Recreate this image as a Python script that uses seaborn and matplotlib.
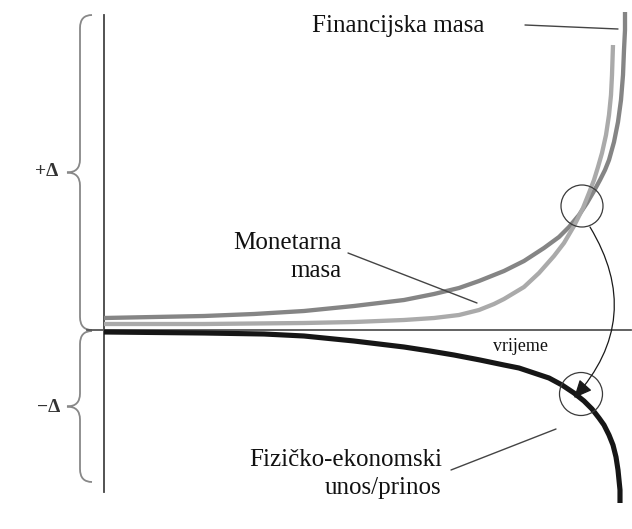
import matplotlib
matplotlib.use("Agg")
import matplotlib.pyplot as plt
from matplotlib.patches import Circle, PathPatch, FancyArrowPatch
from matplotlib.path import Path
import seaborn as sns
import pandas as pd

# ---- data (time, delta) ----
fin_time = [0, 50, 100, 150, 200, 250, 300, 330, 355, 375, 400, 420, 440, 455, 465, 475, 483,
            490, 496, 501, 505, 510, 514, 517, 519, 520, 521, 521]
fin_delta = [12, 13, 14, 16, 19, 24, 30, 36, 42, 49, 59, 69, 82, 93, 103, 115, 127,
             139, 150, 160, 170, 188, 208, 230, 255, 280, 300, 318]

mon_time = [0, 100, 200, 250, 300, 330, 355, 375, 390, 400, 410, 420, 435, 450, 460, 470, 479,
            485, 490, 494, 498, 502, 505, 507, 508, 509]
mon_delta = [6, 6, 7, 8, 10, 12, 15, 20, 26, 31, 37, 43, 57, 74, 87, 104, 122,
             137, 150, 163, 177, 195, 215, 235, 255, 285]

phys_time = [0, 100, 160, 200, 250, 300, 326, 350, 376, 400, 415, 430, 445, 458, 470, 480,
             488, 495, 500, 505, 509, 512, 514, 515, 516, 516]
phys_delta = [-2, -3, -4, -6, -11, -17, -21, -25, -30, -35, -38, -43, -48, -55, -63, -71,
              -79, -88, -95, -105, -115, -127, -140, -150, -160, -173]

labels = {
    "fin": "Financijska masa",
    "mon": ["Monetarna", "masa"],
    "phys": ["Fizičko-ekonomski", "unos/prinos"],
    "time": "vrijeme",
    "plus": "+Δ",
    "minus": "−Δ",
}

df = pd.concat([
    pd.DataFrame({"t": fin_time, "d": fin_delta, "s": "fin"}),
    pd.DataFrame({"t": mon_time, "d": mon_delta, "s": "mon"}),
    pd.DataFrame({"t": phys_time, "d": phys_delta, "s": "phys"}),
])

sns.set_theme(style="white")
plt.rcParams['font.family'] = ['Liberation Serif', 'DejaVu Serif']

fig = plt.figure(figsize=(6.32, 5.29), dpi=100)
ax = fig.add_axes([0, 0, 1, 1])
ax.set_xlim(-104, 528)
ax.set_ylim(-199, 330)

styles = {"fin": ("#858585", 3.1), "mon": ("#aaaaaa", 3.1), "phys": ("#161616", 3.7)}
for key, (col, lw) in styles.items():
    sub = df[df["s"] == key]
    sns.lineplot(data=sub, x="t", y="d", sort=False, estimator=None,
                 color=col, linewidth=lw, ax=ax, zorder=3,
                 solid_capstyle="butt", solid_joinstyle="round")

# axes as spines
for s in ["top", "right"]:
    ax.spines[s].set_visible(False)
ax.spines["left"].set_position(("data", 0))
ax.spines["bottom"].set_position(("data", 0))
ax.spines["left"].set_bounds(-162, 315)
ax.spines["bottom"].set_bounds(-17, 527)
ax.spines["left"].set_color("#444444")
ax.spines["bottom"].set_color("#555555")
ax.spines["left"].set_linewidth(1.3)
ax.spines["bottom"].set_linewidth(1.3)
ax.set_xticks([])
ax.set_yticks([])
ax.set_xlabel("")
ax.set_ylabel("")
ax.set_facecolor("white")

# circles
for (cx, cy, r) in [(478, 124, 21), (477, -64, 21.5)]:
    ax.add_patch(Circle((cx, cy), r, fill=False, edgecolor="#3a3a3a", linewidth=0.9, zorder=4))

# curved arrow
arr = FancyArrowPatch((486, 103), (470, -68), connectionstyle="arc3,rad=-0.37",
                      arrowstyle="-|>,head_length=0.55,head_width=0.25", mutation_scale=20,
                      color="#1a1a1a", linewidth=0.9, shrinkA=0, shrinkB=0, zorder=5)
ax.add_patch(arr)

# leader lines
for (x0, y0, x1, y1) in [(421, 305, 514, 301), (244, 77, 373, 27), (347, -140, 452, -99)]:
    ax.plot([x0, x1], [y0, y1], color="#444444", linewidth=1.0, zorder=4)

# braces
def brace(xe, xs, xt, ytop, ybot, r=13):
    ym = (ytop + ybot) / 2
    verts = [(xe, ytop), (xs, ytop), (xs, ytop - r), (xs, ym + r),
             (xs, ym), (xt, ym), (xs, ym), (xs, ym - r), (xs, ybot + r),
             (xs, ybot), (xe, ybot)]
    codes = [Path.MOVETO, Path.CURVE3, Path.CURVE3, Path.LINETO,
             Path.CURVE3, Path.CURVE3, Path.CURVE3, Path.CURVE3, Path.LINETO,
             Path.CURVE3, Path.CURVE3]
    ax.add_patch(PathPatch(Path(verts, codes), fill=False, edgecolor="#888888", linewidth=1.3, zorder=2))

brace(-12, -24, -37, 315, 0)
brace(-12, -24, -37, -1, -152)

# texts
fs = 18
ax.text(208, 298, labels["fin"], fontsize=fs, ha="left", va="baseline", color="#111111")
ax.text(238, 81, labels["mon"][0], fontsize=fs, ha="right", va="baseline", color="#111111")
ax.text(238, 53, labels["mon"][1], fontsize=fs, ha="right", va="baseline", color="#111111")
ax.text(338, -136, labels["phys"][0], fontsize=fs, ha="right", va="baseline", color="#111111")
ax.text(337, -164, labels["phys"][1], fontsize=fs, ha="right", va="baseline", color="#111111")
ax.text(389, -21, labels["time"], fontsize=13, ha="left", va="baseline", color="#111111")
ax.text(-69, 158, labels["plus"], fontsize=14, fontweight="bold", ha="left", va="center", color="#333333")
ax.text(-67, -78, labels["minus"], fontsize=14, fontweight="bold", ha="left", va="center", color="#333333")

fig.savefig("out.png", dpi=100, facecolor="white")
